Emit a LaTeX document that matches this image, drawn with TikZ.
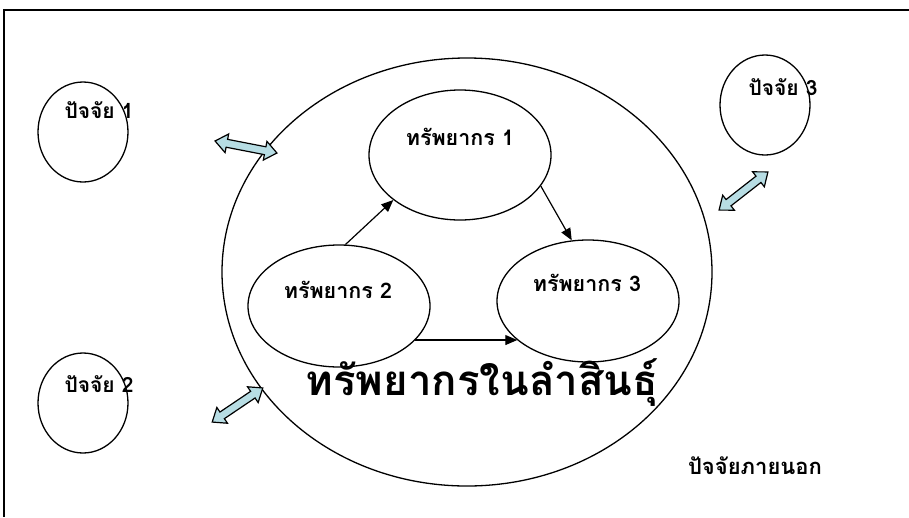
\documentclass[tikz,border=0pt]{standalone}
\usepackage{fontspec}
\setmainfont{Liberation Sans}
\newfontfamily\thaifont[Script=Thai]{Loma}
\usetikzlibrary{shapes.geometric,arrows.meta}
\definecolor{arrowfill}{RGB}{183,221,228}
\begin{document}
\begin{tikzpicture}[x=1pt,y=-1pt,
  factor/.style={ellipse,draw,line width=1.3pt,minimum width=90pt,minimum height=100pt,inner sep=0pt},
  res/.style={ellipse,draw,line width=1.3pt,minimum width=182pt,minimum height=122pt,inner sep=0pt},
  outer/.style={ellipse,draw,line width=1.3pt,minimum width=490pt,minimum height=428pt,inner sep=0pt},
  lbl/.style={font=\thaifont\bfseries\fontsize{21}{24}\selectfont,inner sep=0pt},
  reslbl/.style={font=\thaifont\bfseries\fontsize{21.5}{24}\selectfont,inner sep=0pt},
  ttlstyle/.style={font=\thaifont\bfseries\fontsize{42}{47}\selectfont,inner sep=0pt},
  conn/.style={line width=1.2pt,-{Triangle[length=12pt,width=10pt]}},
  pics/dblarrow/.style={code={
    \draw[line width=1.2pt,fill=arrowfill,line join=miter]
      (-#1,0) -- (-#1+12,-9.5) -- (-#1+12,-4) -- (#1-12,-4) -- (#1-12,-9.5) --
      (#1,0) -- (#1-12,9.5) -- (#1-12,4) -- (-#1+12,4) -- (-#1+12,9.5) -- cycle;}}]
\useasboundingbox (0,0) rectangle (909,517);
\draw[line width=2pt] (909,10) -- (4,10) -- (4,517);
% outer ellipse
\node[outer] (big) at (467,272) {};
% factor circles
\node[factor] (f1) at (83,132) {};
\node[factor] (f2) at (83,403) {};
\node[factor] (f3) at (765,105) {};
\node[lbl] (f1t) at (99,110) {ปัจจัย 1};
\node[lbl] (f2t) at (99,384) {ปัจจัย 2};
\node[lbl] (f3t) at (783,87) {ปัจจัย 3};
% resources
\node[res,minimum height=130pt] (r1) at (460,155) {};
\node[res] (r2) at (339,306) {};
\node[res] (r3) at (588,301) {};
\node[reslbl] (r1t) at (460,137) {ทรัพยากร 1};
\node[reslbl] (r2t) at (338,290) {ทรัพยากร 2};
\node[reslbl] (r3t) at (587,283) {ทรัพยากร 3};
% connectors
\draw[conn] (r2.84) -- (r1.214);
\draw[conn] (r1.339) -- (r3.105);
\draw[conn] (r2.-24) -- (r3.209 |- r2.-24);
% block double arrows
\pic[rotate=-11] (a1) at (246,147) {dblarrow=31.5};
\pic[rotate=34] (a2) at (237.5,405) {dblarrow=30.5};
\pic[rotate=38] (a3) at (743.5,191) {dblarrow=31};
% titles
\node[ttlstyle] (ttl) at (482,383) {ทรัพยากรในลำสินธุ์};
\node[reslbl,font=\thaifont\bfseries\fontsize{22}{25}\selectfont] (ext) at (755,466) {ปัจจัยภายนอก};
\end{tikzpicture}
\end{document}
